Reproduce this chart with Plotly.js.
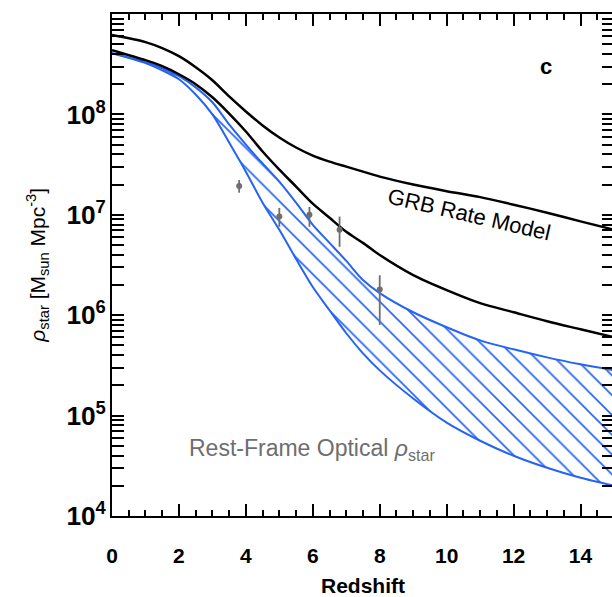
<!DOCTYPE html>
<html>
<head>
<meta charset="utf-8">
<script src="https://cdn.plot.ly/plotly-3.0.1.min.js"></script>
<style>
html,body{margin:0;padding:0;overflow:hidden;background:#fff;}
#chart{width:616px;height:597px;}
</style>
</head>
<body>
<div id="chart"></div>
<script>
// Redshift grid
var redshift = [0, 1, 1.5, 2, 2.5, 3, 3.5, 4, 4.5, 5, 5.5, 6, 6.5, 7, 7.5, 8, 9, 10, 11, 12, 13, 14, 15];
// GRB rate model (upper and lower black curves), M_sun Mpc^-3
var grbUpper = [6.17e8, 5.25e8, 4.57e8, 3.80e8, 2.95e8, 2.19e8, 1.51e8, 1.07e8, 7.76e7, 5.89e7, 4.68e7, 3.89e7, 3.39e7, 3.02e7, 2.69e7, 2.40e7, 2.00e7, 1.72e7, 1.50e7, 1.26e7, 1.05e7, 8.6e6, 7.1e6];
var grbLower = [4.37e8, 3.47e8, 3.02e8, 2.51e8, 2.00e8, 1.48e8, 1.02e8, 6.76e7, 4.27e7, 2.82e7, 1.91e7, 1.29e7, 9.33e6, 6.76e6, 5.25e6, 3.98e6, 2.51e6, 1.78e6, 1.32e6, 1.07e6, 8.7e5, 7.24e5, 6.03e5];
// Rest-frame optical rho_star band (blue hatched)
var optUpper = [4.07e8, 3.31e8, 2.88e8, 2.40e8, 1.86e8, 1.32e8, 7.94e7, 5.01e7, 3.24e7, 2.14e7, 1.32e7, 7.94e6, 5.25e6, 3.47e6, 2.24e6, 1.66e6, 1.07e6, 7.59e5, 5.62e5, 4.57e5, 3.80e5, 3.24e5, 2.82e5];
var optLower = [4.07e8, 3.24e8, 2.75e8, 2.24e8, 1.58e8, 1.00e8, 5.25e7, 2.69e7, 1.32e7, 7.08e6, 3.63e6, 1.91e6, 1.12e6, 6.61e5, 4.17e5, 2.82e5, 1.48e5, 8.51e4, 5.62e4, 3.98e4, 3.02e4, 2.40e4, 2.00e4];
// Observed data points
var obsZ = [3.8, 5.0, 5.9, 6.8, 8.0];
var obsRho = [1.94e7, 9.6e6, 1.0e7, 7.1e6, 1.8e6];
var obsErrPlus = [2.8e6, 2.1e6, 2.0e6, 2.5e6, 7.0e5];
var obsErrMinus = [2.8e6, 2.0e6, 2.4e6, 2.3e6, 1.0e6];

var blue = '#2563f5';
var gray = '#6e6e6e';
var fam = 'Liberation Sans, Arial, sans-serif';

var traces = [
  {x: redshift, y: optLower, mode: 'lines', line: {color: blue, width: 2, shape: 'spline', smoothing: 0.8}},
  {x: redshift, y: optUpper, mode: 'lines', line: {color: blue, width: 2, shape: 'spline', smoothing: 0.8},
   fill: 'tonexty', fillcolor: 'rgba(0,0,0,0)',
   fillpattern: {shape: '\\', fgcolor: blue, bgcolor: 'rgba(0,0,0,0)', size: 14, solidity: 0.12}},
  {x: redshift, y: grbUpper, mode: 'lines', line: {color: '#000', width: 2.5, shape: 'spline', smoothing: 0.8}},
  {x: redshift, y: grbLower, mode: 'lines', line: {color: '#000', width: 2.5, shape: 'spline', smoothing: 0.8}},
  {x: obsZ, y: obsRho, mode: 'markers', marker: {color: gray, size: 6, symbol: 'circle'},
   error_y: {type: 'data', symmetric: false, array: obsErrPlus, arrayminus: obsErrMinus, color: gray, thickness: 1.8, width: 0}},
  // empty trace so the tick-only overlay axis gets its subplot
  {x: [], y: [], xaxis: 'x2', yaxis: 'y', mode: 'lines', hoverinfo: 'skip'}
];

var tickFont = {family: fam, size: 21, color: '#000', weight: 'bold'};

var layout = {
  width: 616, height: 597,
  margin: {l: 112, r: 2, t: 14, b: 81},
  showlegend: false,
  xaxis: {
    range: [0, 15], dtick: 2,
    ticks: 'outside', ticklen: 20, tickwidth: 1, tickcolor: 'rgba(0,0,0,0)',
    showline: true, linecolor: '#000', linewidth: 2, mirror: true,
    showgrid: false, zeroline: false,
    tickfont: tickFont,
    title: {text: '<b>Redshift</b>', font: {family: fam, size: 21, color: '#000'}, standoff: 14}
  },
  xaxis2: {
    overlaying: 'x', anchor: 'y', side: 'bottom',
    range: [0, 15], dtick: 2, showticklabels: false,
    ticks: 'inside', ticklen: 12, tickwidth: 2, tickcolor: '#000',
    minor: {dtick: 0.5, ticks: 'inside', ticklen: 6, tickwidth: 1.5, tickcolor: '#000'},
    showline: true, linecolor: '#000', linewidth: 2, mirror: 'allticks',
    showgrid: false, zeroline: false
  },
  yaxis: {
    type: 'log', range: [4, 9], dtick: 1, exponentformat: 'power',
    ticks: 'inside', ticklen: 12, tickwidth: 2, tickcolor: '#000',
    minor: {ticks: 'inside', ticklen: 6, tickwidth: 1.5, tickcolor: '#000'},
    showline: true, linecolor: '#000', linewidth: 2, mirror: 'allticks',
    showgrid: false, zeroline: false,
    tickfont: tickFont
  },
  annotations: [
    {xref: 'paper', yref: 'paper', x: -0.15, y: 0.5, xanchor: 'center', yanchor: 'middle', textangle: -90, showarrow: false,
     text: '<i>ρ</i><sub>star</sub> [M<sub>sun</sub> Mpc<sup>-3</sup>]',
     font: {family: fam, size: 21, color: '#000'}},
    {xref: 'x', yref: 'y', x: 12.96, y: 8.475, showarrow: false, text: '<b>c</b>',
     font: {family: fam, size: 22, color: '#000'}},
    {xref: 'x', yref: 'y', x: 10.67, y: 7.0, showarrow: false, textangle: 13, text: 'GRB Rate Model',
     font: {family: fam, size: 22, color: '#000'}},
    {xref: 'x', yref: 'y', x: 2.23, y: 4.66, xanchor: 'left', yanchor: 'middle', showarrow: false,
     text: 'Rest-Frame Optical <i>ρ</i><sub>star</sub>',
     font: {family: fam, size: 23, color: gray}}
  ]
};

Plotly.newPlot('chart', traces, layout, {displayModeBar: false});
</script>
</body>
</html>
